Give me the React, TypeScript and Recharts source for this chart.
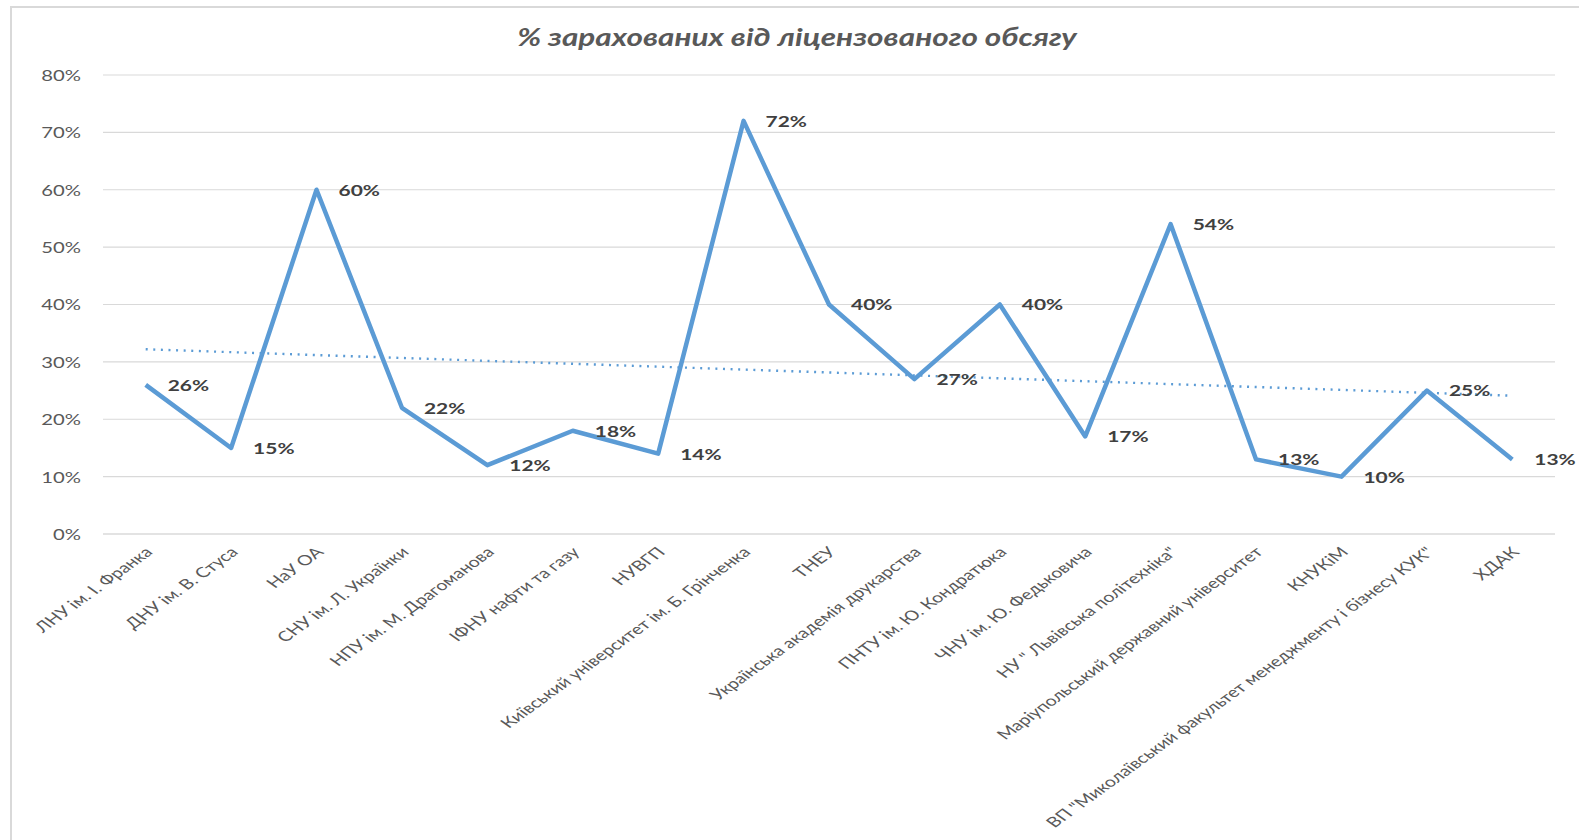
import { LineChart, Line, XAxis, YAxis, CartesianGrid, LabelList } from 'recharts';

const universities = [
  'ЛНУ ім. І. Франка',
  'ДНУ ім. В. Стуса',
  'НаУ ОА',
  'СНУ ім. Л. Українки',
  'НПУ ім. М. Драгоманова',
  'ІФНУ нафти та газу',
  'НУВГП',
  'Київський університет ім. Б. Грінченка',
  'ТНЕУ',
  'Українська академія друкарства',
  'ПНТУ ім. Ю. Кондратюка',
  'ЧНУ ім. Ю. Федьковича',
  'НУ " Львівська політехніка"',
  'Маріупольський державний університет',
  'КНУКіМ',
  'ВП "Миколаївський факультет менеджменту і бізнесу КУК"',
  'ХДАК'
];

const enrolledPct = [26, 15, 60, 22, 12, 18, 14, 72, 40, 27, 40, 17, 54, 13, 10, 25, 13];

const trendEnds = [32.2, 24.1];

const yTicks = [0, 10, 20, 30, 40, 50, 60, 70, 80];

const STRETCH = 1.35;
const FONT = "Lato, 'Open Sans', sans-serif";

const data = universities.map((name, i) => ({
  name,
  value: enrolledPct[i],
  trend: i === 0 ? trendEnds[0] : i === universities.length - 1 ? trendEnds[1] : null
}));

const YTick = (props: any) => {
  const { x, y, payload } = props;
  return (
    <text
      transform={`translate(${x},${y}) scale(${STRETCH},1)`}
      textAnchor="end"
      dominantBaseline="central"
      fontSize={15}
      fill="#595959"
      fontFamily={FONT}
    >
      {`${payload.value}%`}
    </text>
  );
};

const XTick = (props: any) => {
  const { x, y, payload } = props;
  return (
    <text
      transform={`translate(${x + 8},${y + 9}) scale(1.38,1) rotate(-45)`}
      textAnchor="end"
      fontSize={14.2}
      fill="#595959"
      fontFamily={FONT}
    >
      {payload.value}
    </text>
  );
};

const ValueLabel = (props: any) => {
  const { x, y, value } = props;
  return (
    <text
      transform={`translate(${x + 22},${y}) scale(${STRETCH},1)`}
      textAnchor="start"
      dominantBaseline="central"
      fontSize={15.5}
      fontWeight="bold"
      fill="#404040"
      fontFamily={FONT}
    >
      {`${value}%`}
    </text>
  );
};

export default function App() {
  return (
    <div style={{ position: 'absolute', left: 0, top: 0, width: 1579, height: 840, overflow: 'hidden', background: '#fff' }}>
      <div
        style={{
          position: 'absolute',
          left: 10,
          top: 6,
          width: 1700,
          height: 900,
          border: '2px solid #d9d9d9'
        }}
      />
      <div
        style={{
          position: 'absolute',
          left: 797,
          top: 36,
          transform: 'translate(-50%, -50%) scaleX(1.26)',
          whiteSpace: 'nowrap',
          fontFamily: FONT,
          fontSize: 25,
          fontWeight: 'bold',
          fontStyle: 'italic',
          color: '#595959'
        }}
      >
        % зарахованих від ліцензованого обсягу
      </div>
      <div style={{ position: 'absolute', left: 0, top: 0 }}>
        <LineChart width={1579} height={840} data={data} margin={{ top: 75, right: 24, bottom: 276, left: 0 }}>
          <CartesianGrid vertical={false} stroke="#d9d9d9" strokeWidth={1.2} />
          <XAxis
            dataKey="name"
            interval={0}
            height={30}
            padding={{ left: 42.7, right: 42.7 }}
            tickLine={false}
            tickSize={0}
            tickMargin={10}
            axisLine={{ stroke: '#d9d9d9', strokeWidth: 1.2 }}
            tick={<XTick />}
          />
          <YAxis
            width={103}
            domain={[0, 80]}
            ticks={yTicks}
            axisLine={false}
            tickLine={false}
            tickSize={0}
            tickMargin={22}
            tick={<YTick />}
          />
          <Line
            dataKey="trend"
            connectNulls
            stroke="#5B9BD5"
            strokeWidth={2.4}
            strokeDasharray="2 5.6"
            dot={false}
            activeDot={false}
            isAnimationActive={false}
          />
          <Line
            dataKey="value"
            type="linear"
            stroke="#5B9BD5"
            strokeWidth={4.5}
            strokeLinejoin="round"
            dot={false}
            activeDot={false}
            isAnimationActive={false}
          >
            <LabelList dataKey="value" content={<ValueLabel />} />
          </Line>
        </LineChart>
      </div>
    </div>
  );
}
